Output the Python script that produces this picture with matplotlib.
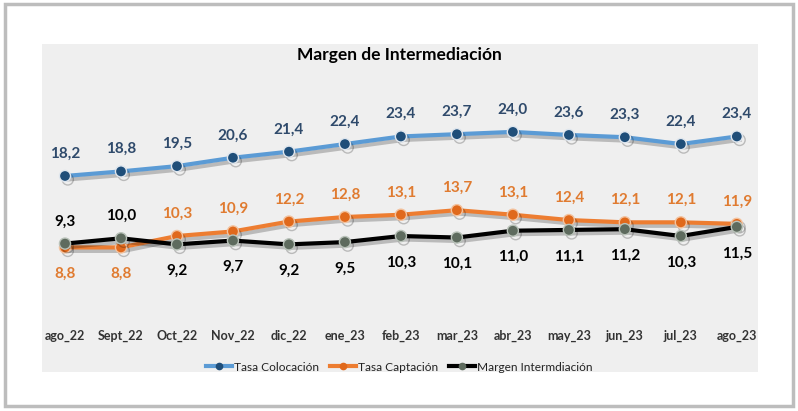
import matplotlib.pyplot as plt
import matplotlib.patheffects as pe
from matplotlib.patches import Rectangle
from matplotlib.lines import Line2D

plt.rcParams['font.family'] = ['Lato', 'DejaVu Sans']

meses = ['ago_22', 'Sept_22', 'Oct_22', 'Nov_22', 'dic_22', 'ene_23', 'feb_23',
         'mar_23', 'abr_23', 'may_23', 'jun_23', 'jul_23', 'ago_23']
colocacion = [18.2, 18.8, 19.5, 20.6, 21.4, 22.4, 23.4, 23.7, 24.0, 23.6, 23.3, 22.4, 23.4]
captacion = [8.8, 8.8, 10.3, 10.9, 12.2, 12.8, 13.1, 13.7, 13.1, 12.4, 12.1, 12.1, 11.9]
margen = [9.3, 10.0, 9.2, 9.7, 9.2, 9.5, 10.3, 10.1, 11.0, 11.1, 11.2, 10.3, 11.5]

# labels below the point for these indices
captacion_abajo = [0, 1]
margen_arriba = [0, 1]

fig = plt.figure(figsize=(7.98, 4.11), dpi=100)

# outer frame and gray chart area
fig.patches.append(Rectangle((0.006, 0.012), 0.988, 0.978, transform=fig.transFigure,
                             facecolor='white', edgecolor='#bdbdbd', linewidth=2.5, zorder=-2))
fig.patches.append(Rectangle((42 / 798, 1 - 372 / 411), 716 / 798, 328 / 411,
                             transform=fig.transFigure, facecolor='#efefef', edgecolor='none',
                             zorder=-1))

ax = fig.add_axes([0.0534, 0.2353, 0.898, 0.5547])
ax.set_facecolor('none')
for s in ax.spines.values():
    s.set_visible(False)

x = list(range(len(meses)))
sombra = [pe.SimpleLineShadow(offset=(2, -2.5), alpha=0.22, shadow_color='black'), pe.Normal()]

ax.plot(x, colocacion, color='#5b9bd5', linewidth=3, marker='o', markersize=8,
        markerfacecolor='#1f4e79', markeredgecolor='#dfe6ee', markeredgewidth=1,
        path_effects=sombra, zorder=3)
ax.plot(x, captacion, color='#ed7d31', linewidth=3, marker='o', markersize=8,
        markerfacecolor='#e0691c', markeredgecolor='#f3c29e', markeredgewidth=1,
        path_effects=sombra, zorder=3)
ax.plot(x, margen, color='black', linewidth=3, marker='o', markersize=8,
        markerfacecolor='#5e6b5e', markeredgecolor='#b9c2b9', markeredgewidth=1,
        path_effects=sombra, zorder=4)

def fmt(v):
    return f"{v:.1f}".replace('.', ',')

for i in x:
    ax.annotate(fmt(colocacion[i]), (i, colocacion[i]), xytext=(0, 11), textcoords='offset points',
                ha='center', va='bottom', fontsize=11, fontweight='bold', color='#2f4a6b')
    if i in captacion_abajo:
        off, va = (0, -14), 'top'
    else:
        off, va = (0, 11), 'bottom'
    ax.annotate(fmt(captacion[i]), (i, captacion[i]), xytext=off, textcoords='offset points',
                ha='center', va=va, fontsize=11, fontweight='bold', color='#e07b30')
    if i in margen_arriba:
        off, va = (0, 11), 'bottom'
    else:
        off, va = (0, -14), 'top'
    ax.annotate(fmt(margen[i]), (i, margen[i]), xytext=off, textcoords='offset points',
                ha='center', va=va, fontsize=11, fontweight='bold', color='black')

ax.set_xlim(-0.4, 12.4)
ax.set_ylim(0, 30)
ax.set_yticks([])
ax.set_xticks(x)
ax.set_xticklabels(meses, fontsize=9, fontweight='bold', color='#333333')
ax.tick_params(axis='x', length=0, pad=11)

fig.text(0.5, 1 - 55 / 411, 'Margen de Intermediación', ha='center', va='center',
         fontsize=12.5, fontweight='bold', color='black')

handles = [
    Line2D([], [], color='#5b9bd5', linewidth=3, marker='o', markersize=4.5,
           markerfacecolor='#1f4e79', markeredgecolor='#1f4e79'),
    Line2D([], [], color='#ed7d31', linewidth=3, marker='o', markersize=4.5,
           markerfacecolor='#e0691c', markeredgecolor='#e0691c'),
    Line2D([], [], color='black', linewidth=3, marker='o', markersize=4.5,
           markerfacecolor='#5e6b5e', markeredgecolor='#5e6b5e'),
]
fig.legend(handles, ['Tasa Colocación', 'Tasa Captación', 'Margen Intermdiación'],
           loc='center', bbox_to_anchor=(0.5, 1 - 367 / 411), ncol=3, frameon=False,
           fontsize=8.6, handlelength=2.2, handletextpad=0.15, columnspacing=0.9,
           labelcolor='#222222')

fig.savefig('out.png', dpi=100)
